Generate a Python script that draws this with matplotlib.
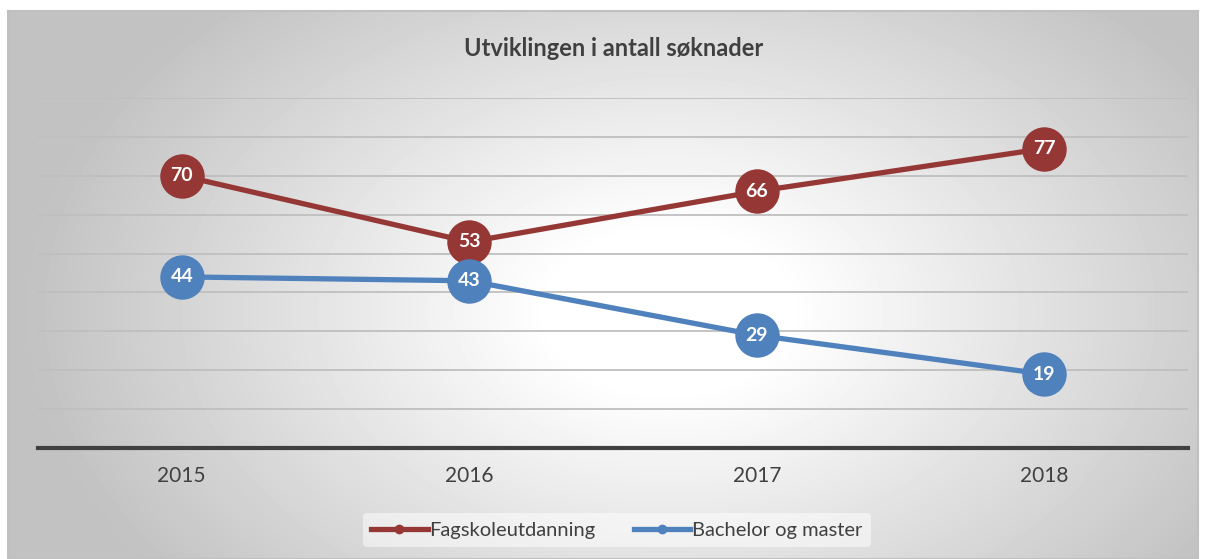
import numpy as np
import matplotlib
matplotlib.use('Agg')
import matplotlib.pyplot as plt
from matplotlib.lines import Line2D

plt.rcParams['font.family'] = ['Lato', 'DejaVu Sans']

years = ['2015', '2016', '2017', '2018']
fagskole = [70, 53, 66, 77]
bachelor = [44, 43, 29, 19]
series_names = ['Fagskoleutdanning', 'Bachelor og master']
title = 'Utviklingen i antall søknader'

red = '#953735'
blue = '#4f81bd'
txt = '#404040'

W, H = 1206, 559
fig = plt.figure(figsize=(W / 100, H / 100), dpi=100, facecolor='white')

# background panel with radial grey -> white gradient
bg = fig.add_axes([8 / W, 0, 1190 / W, (H - 11) / H])
yy, xx = np.mgrid[0:548, 0:1190]
dx = (xx - 660) / 600.0
dy = (yy - 300) / 400.0
d = np.clip(np.sqrt(dx ** 2 + dy ** 2), 0, 1.2)
val = 1 - 0.22 * np.clip((d - 0.2) / 0.8, 0, 1.1) ** 1.0
bg.imshow(val, cmap='gray', vmin=0, vmax=1, aspect='auto', interpolation='bilinear')
bg.set_xticks([])
bg.set_yticks([])
for s in bg.spines.values():
    s.set_color('#c0c0c0')
    s.set_linewidth(1.5)

ax = fig.add_axes([38 / W, (H - 448) / H, 1150 / W, 350 / H])
ax.patch.set_alpha(0)
x = np.arange(len(years))

ax.set_ylim(0, 90)
ax.set_xlim(-0.5, len(years) - 0.5)
ax.set_yticks(np.arange(10, 91, 10))
ax.yaxis.grid(True, color='#bfbfbf', linewidth=1.3)
ax.set_axisbelow(True)
ax.tick_params(axis='y', left=False, labelleft=False)
ax.tick_params(axis='x', length=0, pad=13, labelsize=15, labelcolor=txt)
ax.set_xticks(x)
ax.set_xticklabels(years)
for k in ['top', 'right', 'left']:
    ax.spines[k].set_visible(False)
ax.spines['bottom'].set_color('#404040')
ax.spines['bottom'].set_linewidth(3)

for vals, col in [(fagskole, red), (bachelor, blue)]:
    ax.plot(x, vals, color=col, linewidth=3.8, marker='o', markersize=32,
            markeredgewidth=0, zorder=3, clip_on=False)
    for xi, v in zip(x, vals):
        ax.text(xi, v, str(v), ha='center', va='center', color='white',
                fontsize=14, fontweight='bold', zorder=4)

fig.text(614 / W, 1 - 48 / H, title, ha='center', va='center',
         fontsize=17, fontweight='bold', color=txt)

handles = [Line2D([0], [0], color=red, linewidth=3.8, marker='o', markersize=6),
           Line2D([0], [0], color=blue, linewidth=3.8, marker='o', markersize=6)]
leg = fig.legend(handles, series_names, loc='center', bbox_to_anchor=(617 / W, 1 - 530 / H),
                 ncol=2, frameon=True, fontsize=14.5, handlelength=2.8, columnspacing=1.9,
                 handletextpad=0.1, labelcolor=txt)
leg.get_frame().set_facecolor('white')
leg.get_frame().set_alpha(0.5)
leg.get_frame().set_edgecolor('none')

fig.savefig('out.png', dpi=100, facecolor='white')
